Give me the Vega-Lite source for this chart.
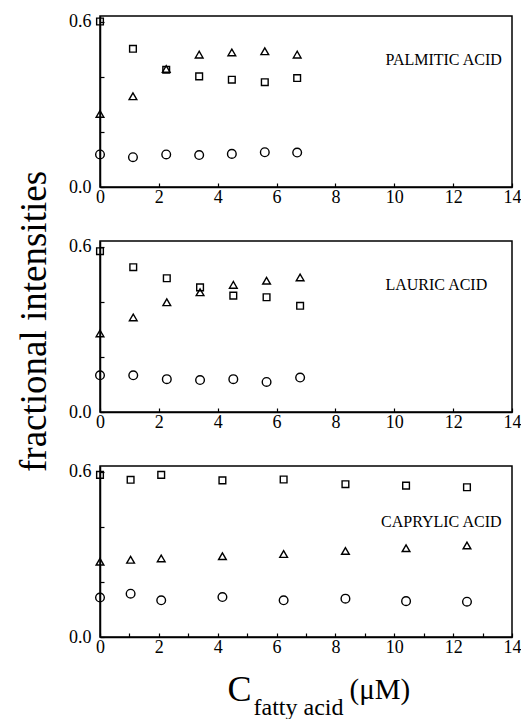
{
  "$schema": "https://vega.github.io/schema/vega-lite/v6.json",
  "background": "white",
  "padding": {"left": 14, "top": 11, "right": 5, "bottom": 0},
  "config": {
    "font": "Liberation Serif",
    "view": {"stroke": "black", "strokeWidth": 1.5},
    "axis": {
      "domainColor": "black", "domainWidth": 1.5,
      "tickColor": "black", "tickWidth": 1.2, "tickSize": -4,
      "labelColor": "black", "labelFont": "Liberation Serif", "labelFontSize": 18,
      "labelOverlap": false, "grid": false,
      "titleFont": "Liberation Serif", "titleFontWeight": "normal", "titleColor": "black"
    },
    "axisX": {"labelFlush": false, "labelPadding": 5, "labelFont": "Liberation Serif"},
    "axisY": {"labelPadding": 13, "labelFont": "Liberation Serif"}
  },
  "datasets": {
    "d": [
      {"acid": "P", "s": "square", "x": 0, "y": 0.600},
      {"acid": "P", "s": "square", "x": 1.12, "y": 0.501},
      {"acid": "P", "s": "square", "x": 2.25, "y": 0.425},
      {"acid": "P", "s": "square", "x": 3.37, "y": 0.401},
      {"acid": "P", "s": "square", "x": 4.48, "y": 0.389},
      {"acid": "P", "s": "square", "x": 5.6, "y": 0.380},
      {"acid": "P", "s": "square", "x": 6.7, "y": 0.395},
      {"acid": "P", "s": "triangle", "x": 0, "y": 0.265},
      {"acid": "P", "s": "triangle", "x": 1.12, "y": 0.329},
      {"acid": "P", "s": "triangle", "x": 2.25, "y": 0.428},
      {"acid": "P", "s": "triangle", "x": 3.37, "y": 0.480},
      {"acid": "P", "s": "triangle", "x": 4.48, "y": 0.488},
      {"acid": "P", "s": "triangle", "x": 5.6, "y": 0.492},
      {"acid": "P", "s": "triangle", "x": 6.7, "y": 0.480},
      {"acid": "P", "s": "circle", "x": 0, "y": 0.118},
      {"acid": "P", "s": "circle", "x": 1.12, "y": 0.108},
      {"acid": "P", "s": "circle", "x": 2.25, "y": 0.118},
      {"acid": "P", "s": "circle", "x": 3.37, "y": 0.116},
      {"acid": "P", "s": "circle", "x": 4.48, "y": 0.120},
      {"acid": "P", "s": "circle", "x": 5.6, "y": 0.126},
      {"acid": "P", "s": "circle", "x": 6.7, "y": 0.125},
      {"acid": "L", "s": "square", "x": 0, "y": 0.583},
      {"acid": "L", "s": "square", "x": 1.13, "y": 0.525},
      {"acid": "L", "s": "square", "x": 2.27, "y": 0.485},
      {"acid": "L", "s": "square", "x": 3.40, "y": 0.452},
      {"acid": "L", "s": "square", "x": 4.53, "y": 0.422},
      {"acid": "L", "s": "square", "x": 5.66, "y": 0.416},
      {"acid": "L", "s": "square", "x": 6.80, "y": 0.385},
      {"acid": "L", "s": "triangle", "x": 0, "y": 0.285},
      {"acid": "L", "s": "triangle", "x": 1.13, "y": 0.343},
      {"acid": "L", "s": "triangle", "x": 2.27, "y": 0.398},
      {"acid": "L", "s": "triangle", "x": 3.40, "y": 0.434},
      {"acid": "L", "s": "triangle", "x": 4.53, "y": 0.461},
      {"acid": "L", "s": "triangle", "x": 5.66, "y": 0.476},
      {"acid": "L", "s": "triangle", "x": 6.80, "y": 0.488},
      {"acid": "L", "s": "circle", "x": 0, "y": 0.133},
      {"acid": "L", "s": "circle", "x": 1.13, "y": 0.133},
      {"acid": "L", "s": "circle", "x": 2.27, "y": 0.119},
      {"acid": "L", "s": "circle", "x": 3.40, "y": 0.116},
      {"acid": "L", "s": "circle", "x": 4.53, "y": 0.119},
      {"acid": "L", "s": "circle", "x": 5.66, "y": 0.109},
      {"acid": "L", "s": "circle", "x": 6.80, "y": 0.125},
      {"acid": "C", "s": "square", "x": 0, "y": 0.588},
      {"acid": "C", "s": "square", "x": 1.04, "y": 0.570},
      {"acid": "C", "s": "square", "x": 2.08, "y": 0.588},
      {"acid": "C", "s": "square", "x": 4.16, "y": 0.568},
      {"acid": "C", "s": "square", "x": 6.24, "y": 0.571},
      {"acid": "C", "s": "square", "x": 8.34, "y": 0.554},
      {"acid": "C", "s": "square", "x": 10.4, "y": 0.549},
      {"acid": "C", "s": "square", "x": 12.47, "y": 0.543},
      {"acid": "C", "s": "triangle", "x": 0, "y": 0.273},
      {"acid": "C", "s": "triangle", "x": 1.04, "y": 0.280},
      {"acid": "C", "s": "triangle", "x": 2.08, "y": 0.285},
      {"acid": "C", "s": "triangle", "x": 4.16, "y": 0.293},
      {"acid": "C", "s": "triangle", "x": 6.24, "y": 0.301},
      {"acid": "C", "s": "triangle", "x": 8.34, "y": 0.312},
      {"acid": "C", "s": "triangle", "x": 10.4, "y": 0.322},
      {"acid": "C", "s": "triangle", "x": 12.47, "y": 0.332},
      {"acid": "C", "s": "circle", "x": 0, "y": 0.143},
      {"acid": "C", "s": "circle", "x": 1.04, "y": 0.157},
      {"acid": "C", "s": "circle", "x": 2.08, "y": 0.133},
      {"acid": "C", "s": "circle", "x": 4.16, "y": 0.145},
      {"acid": "C", "s": "circle", "x": 6.24, "y": 0.133},
      {"acid": "C", "s": "circle", "x": 8.34, "y": 0.139},
      {"acid": "C", "s": "circle", "x": 10.4, "y": 0.130},
      {"acid": "C", "s": "circle", "x": 12.47, "y": 0.128}
    ]
  },
  "spacing": 54,
  "bounds": "flush",
  "vconcat": [
    {
      "width": 412, "height": 171,
      "layer": [
        {
          "data": {"name": "d"},
          "transform": [{"filter": "datum.acid === 'P'"}],
          "mark": {"type": "point", "filled": false, "stroke": "black", "strokeWidth": 1.4, "opacity": 1},
          "encoding": {
            "x": {"field": "x", "type": "quantitative", "scale": {"domain": [0, 14], "nice": false, "zero": false},
                  "axis": {"values": [0,1,2,3,4,5,6,7,8,9,10,11,12,13,14], "labelExpr": "datum.value % 2 === 0 ? datum.label : ''", "title": null, "labelFont": "Liberation Serif"}},
            "y": {"field": "y", "type": "quantitative", "scale": {"domain": [0, 0.62], "nice": false},
                  "axis": {"values": [0, 0.1, 0.2, 0.3, 0.4, 0.5, 0.6], "format": ".1f", "labelExpr": "datum.value === 0 || datum.value === 0.3 || datum.value === 0.6 ? datum.label : ''", "title": null, "labelFont": "Liberation Serif"}},
            "shape": {"field": "s", "type": "nominal", "scale": {"domain": ["square", "triangle", "circle"], "range": ["square", "triangle-up", "circle"]}, "legend": null},
            "size": {"field": "s", "type": "nominal", "scale": {"domain": ["square", "triangle", "circle"], "range": [45, 75, 55]}, "legend": null}
          }
        },
        {
          "data": {"values": [{"label": "PALMITIC ACID"}]},
          "mark": {"type": "text", "align": "left", "baseline": "middle", "fontSize": 16, "color": "black", "font": "Liberation Serif"},
          "encoding": {
            "x": {"datum": 9.7, "type": "quantitative"},
            "y": {"datum": 0.46, "type": "quantitative"},
            "text": {"field": "label"}
          }
        }
      ]
    },
    {
      "width": 412, "height": 171,
      "layer": [
        {
          "data": {"name": "d"},
          "transform": [{"filter": "datum.acid === 'L'"}],
          "mark": {"type": "point", "filled": false, "stroke": "black", "strokeWidth": 1.4, "opacity": 1},
          "encoding": {
            "x": {"field": "x", "type": "quantitative", "scale": {"domain": [0, 14], "nice": false, "zero": false},
                  "axis": {"values": [0,1,2,3,4,5,6,7,8,9,10,11,12,13,14], "labelExpr": "datum.value % 2 === 0 ? datum.label : ''", "title": null, "labelFont": "Liberation Serif"}},
            "y": {"field": "y", "type": "quantitative", "scale": {"domain": [0, 0.62], "nice": false},
                  "axis": {"values": [0, 0.1, 0.2, 0.3, 0.4, 0.5, 0.6], "format": ".1f", "labelExpr": "datum.value === 0 || datum.value === 0.3 || datum.value === 0.6 ? datum.label : ''", "labelFont": "Liberation Serif",
                           "title": "fractional intensities", "titleFontSize": 37, "titleAngle": -90, "titleBaseline": "alphabetic", "titleAlign": "center", "titleX": -55, "titleY": 80}},
            "shape": {"field": "s", "type": "nominal", "scale": {"domain": ["square", "triangle", "circle"], "range": ["square", "triangle-up", "circle"]}, "legend": null},
            "size": {"field": "s", "type": "nominal", "scale": {"domain": ["square", "triangle", "circle"], "range": [45, 75, 55]}, "legend": null}
          }
        },
        {
          "data": {"values": [{"label": "LAURIC ACID"}]},
          "mark": {"type": "text", "align": "left", "baseline": "middle", "fontSize": 16, "color": "black", "font": "Liberation Serif"},
          "encoding": {
            "x": {"datum": 9.7, "type": "quantitative"},
            "y": {"datum": 0.46, "type": "quantitative"},
            "text": {"field": "label"}
          }
        }
      ]
    },
    {
      "width": 412, "height": 171,
      "resolve": {"scale": {"x": "independent"}, "axis": {"x": "independent"}},
      "layer": [
        {
          "data": {"name": "d"},
          "transform": [{"filter": "datum.acid === 'C'"}],
          "mark": {"type": "point", "filled": false, "stroke": "black", "strokeWidth": 1.4, "opacity": 1},
          "encoding": {
            "x": {"field": "x", "type": "quantitative", "scale": {"domain": [0, 14], "nice": false, "zero": false},
                  "axis": {"orient": "bottom", "values": [0,1,2,3,4,5,6,7,8,9,10,11,12,13,14], "labelExpr": "datum.value % 2 === 0 ? datum.label : ''", "labelFont": "Liberation Serif",
                           "title": "C", "titleFontSize": 36, "titleAlign": "left", "titleBaseline": "alphabetic", "titleX": 127, "titleY": 63}},
            "y": {"field": "y", "type": "quantitative", "scale": {"domain": [0, 0.62], "nice": false},
                  "axis": {"values": [0, 0.1, 0.2, 0.3, 0.4, 0.5, 0.6], "format": ".1f", "labelExpr": "datum.value === 0 || datum.value === 0.3 || datum.value === 0.6 ? datum.label : ''", "title": null, "labelFont": "Liberation Serif"}},
            "shape": {"field": "s", "type": "nominal", "scale": {"domain": ["square", "triangle", "circle"], "range": ["square", "triangle-up", "circle"]}, "legend": null},
            "size": {"field": "s", "type": "nominal", "scale": {"domain": ["square", "triangle", "circle"], "range": [45, 75, 55]}, "legend": null}
          }
        },
        {
          "data": {"name": "d"},
          "transform": [{"filter": "datum.acid === 'C'"}],
          "mark": {"type": "point", "opacity": 0},
          "encoding": {
            "x": {"field": "x", "type": "quantitative", "scale": {"domain": [0, 14], "nice": false, "zero": false},
                  "axis": {"orient": "bottom", "labels": false, "ticks": false, "domain": false,
                           "title": "fatty acid", "titleFontSize": 24, "titleAlign": "left", "titleBaseline": "alphabetic", "titleX": 153, "titleY": 77}},
            "y": {"field": "y", "type": "quantitative"}
          }
        },
        {
          "data": {"name": "d"},
          "transform": [{"filter": "datum.acid === 'C'"}],
          "mark": {"type": "point", "opacity": 0},
          "encoding": {
            "x": {"field": "x", "type": "quantitative", "scale": {"domain": [0, 14], "nice": false, "zero": false},
                  "axis": {"orient": "bottom", "labels": false, "ticks": false, "domain": false,
                           "title": "(μM)", "titleFontSize": 29, "titleAlign": "left", "titleBaseline": "alphabetic", "titleX": 249, "titleY": 61}},
            "y": {"field": "y", "type": "quantitative"}
          }
        },
        {
          "data": {"values": [{"label": "CAPRYLIC ACID"}]},
          "mark": {"type": "text", "align": "left", "baseline": "middle", "fontSize": 16, "color": "black", "font": "Liberation Serif"},
          "encoding": {
            "x": {"datum": 9.55, "type": "quantitative", "scale": {"domain": [0, 14], "nice": false, "zero": false}, "axis": null},
            "y": {"datum": 0.417, "type": "quantitative"},
            "text": {"field": "label"}
          }
        }
      ]
    }
  ]
}
